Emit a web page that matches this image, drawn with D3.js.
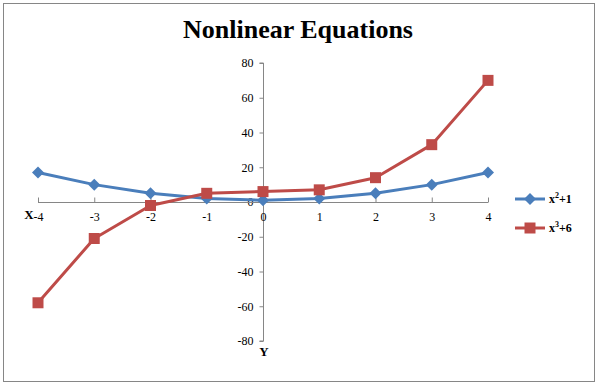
<!DOCTYPE html>
<html>
<head>
<meta charset="utf-8">
<script src="https://cdn.jsdelivr.net/npm/d3@7"></script>
<style>
  body { margin: 0; background: #fff; }
  svg { display: block; }
</style>
</head>
<body>
<div id="chart"></div>
<script>
// data
const xValues = [-4, -3, -2, -1, 0, 1, 2, 3, 4];
const squareSeries = [17, 10, 5, 2, 1, 2, 5, 10, 17];      // x^2+1
const cubeSeries = [-58, -21, -2, 5, 6, 7, 14, 33, 70];     // x^3+6
const yTicks = [-80, -60, -40, -20, 0, 20, 40, 60, 80];

const W = 599, H = 387;
const serif = "'Liberation Serif', 'DejaVu Serif', serif";

const svg = d3.select('#chart').append('svg')
    .attr('width', W)
    .attr('height', H);

svg.append('rect')
    .attr('x', 3.5).attr('y', 3.5)
    .attr('width', 591).attr('height', 378)
    .attr('fill', '#fff')
    .attr('stroke', '#868686')
    .attr('stroke-width', 1);

svg.append('text')
    .attr('x', 298).attr('y', 38)
    .attr('text-anchor', 'middle')
    .style('font-family', serif)
    .style('font-weight', 'bold')
    .style('font-size', '26px')
    .text('Nonlinear Equations');

const x = d3.scaleLinear().domain([-4, 4]).range([38, 488]);
const y = d3.scaleLinear().domain([-80, 80]).range([341, 63]);

// plain hyphen for negatives, like the original
const fmt = d => String(d);

// y axis at x = 0
const yAxis = svg.append('g')
    .attr('transform', `translate(${Math.round(x(0)) + 0.5},0)`)
    .call(d3.axisLeft(y).tickValues(yTicks).tickFormat(fmt).tickSize(4).tickPadding(6));

// x axis at y = 0, ticks upward, labels below
const xAxis = svg.append('g')
    .attr('transform', `translate(0,${Math.round(y(0)) + 0.5})`)
    .call(d3.axisBottom(x).tickValues(xValues).tickFormat(fmt).tickSize(-5).tickPadding(10).tickSizeOuter(0));

[xAxis, yAxis].forEach(g => {
    g.selectAll('path, line').attr('stroke', '#868686');
    g.selectAll('text')
        .style('font-family', serif)
        .style('font-size', '12px')
        .attr('fill', '#000');
});
yAxis.selectAll('path').attr('d', `M-4,${y(80)}H0V${y(-80)}H-4`);
xAxis.select('path').attr('d', `M${x(-4)},0H${x(4)}`);

svg.append('text')
    .attr('x', 29).attr('y', 219)
    .attr('text-anchor', 'middle')
    .style('font-family', serif)
    .style('font-weight', 'bold')
    .style('font-size', '13px')
    .text('X');

svg.append('text')
    .attr('x', 264).attr('y', 356)
    .attr('text-anchor', 'middle')
    .style('font-family', serif)
    .style('font-weight', 'bold')
    .style('font-size', '13px')
    .text('Y');

const line = d3.line()
    .x((d, i) => x(xValues[i]))
    .y(d => y(d));

const blue = '#4a7ebb', red = '#be4b48';

function drawSeries(vals, color, marker) {
    svg.append('path')
        .datum(vals)
        .attr('fill', 'none')
        .attr('stroke', color)
        .attr('stroke-width', 3)
        .attr('stroke-linejoin', 'round')
        .attr('d', line);
    svg.append('g').selectAll('path')
        .data(vals)
        .enter().append('path')
        .attr('transform', (d, i) => `translate(${x(xValues[i])},${y(d)})`)
        .attr('d', marker)
        .attr('fill', color);
}

const diamond = 'M0,-6L6,0L0,6L-6,0Z';
const square = 'M-5.5,-5.5H5.5V5.5H-5.5Z';

drawSeries(squareSeries, blue, diamond);
drawSeries(cubeSeries, red, square);

// legend
const legend = [
    { label: 'x', sup: '2', rest: '+1', color: blue, marker: diamond, y: 199 },
    { label: 'x', sup: '3', rest: '+6', color: red, marker: square, y: 228 }
];
legend.forEach(l => {
    svg.append('line')
        .attr('x1', 515).attr('x2', 545)
        .attr('y1', l.y).attr('y2', l.y)
        .attr('stroke', l.color).attr('stroke-width', 3);
    svg.append('path')
        .attr('transform', `translate(530,${l.y})`)
        .attr('d', l.marker)
        .attr('fill', l.color);
    const t = svg.append('text')
        .attr('x', 549).attr('y', l.y + 4)
        .style('font-family', serif)
        .style('font-weight', 'bold')
        .style('font-size', '12px');
    t.append('tspan').text(l.label);
    t.append('tspan').attr('dy', -5).style('font-size', '8px').text(l.sup);
    t.append('tspan').attr('dy', 5).text(l.rest);
});
</script>
</body>
</html>
